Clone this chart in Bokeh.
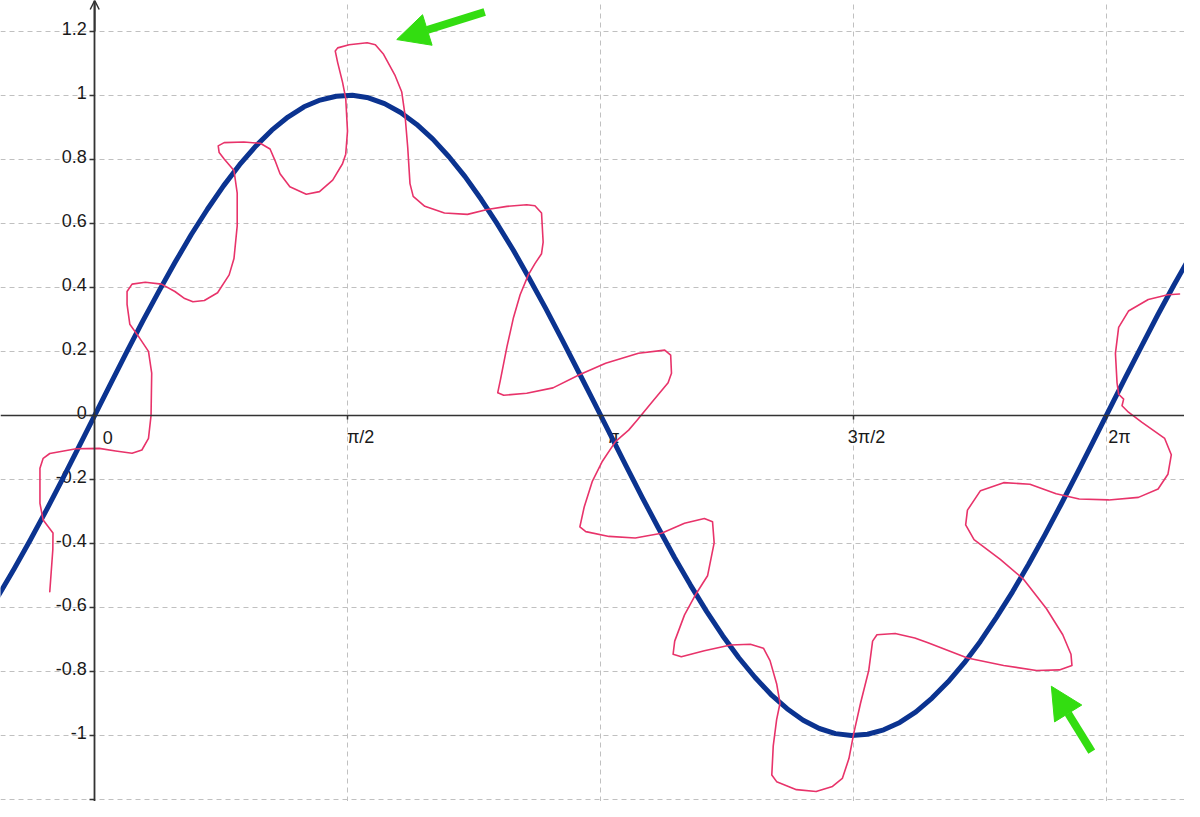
import math
from bokeh.plotting import figure
from bokeh.models import (Range1d, LinearAxis, FixedTicker, Grid, Arrow,
                          NormalHead, OpenHead, CustomJSTickFormatter)
from bokeh.embed import file_html
from bokeh.resources import INLINE
from bokeh.core.properties import value

PI = math.pi

# ---- axes / ticks ----
x_grid_ticks = [PI / 2, PI, 3 * PI / 2, 2 * PI]
x_label_pos = [0, PI / 2, PI, 3 * PI / 2, 2 * PI]
x_labels = ["0", "π/2", "π", "3π/2", "2π"]
y_grid_ticks = [-1.2, -1.0, -0.8, -0.6, -0.4, -0.2, 0.2, 0.4, 0.6, 0.8, 1.0, 1.2]
y_tick_pos = [-1.2, -1.0, -0.8, -0.6, -0.4, -0.2, 0.0, 0.2, 0.4, 0.6, 0.8, 1.0, 1.2]
y_label_pos = [1.2, 1.0, 0.8, 0.6, 0.4, 0.2, 0.0, -0.2, -0.4, -0.6, -0.8, -1.0]
y_labels = ["1.2", "1", "0.8", "0.6", "0.4", "0.2", "0", "-0.2", "-0.4", "-0.6", "-0.8", "-1"]

# ---- blue curve ----
blue_x = [-0.6, -0.5, -0.4, -0.3, -0.2, -0.1, 0.0, 0.1, 0.2, 0.3, 0.4, 0.5, 0.6, 0.7, 0.8,
          0.9, 1.0, 1.1, 1.2, 1.3, 1.4, 1.5, 1.6, 1.7, 1.8, 1.9, 2.0, 2.1, 2.2, 2.3, 2.4,
          2.5, 2.6, 2.7, 2.8, 2.9, 3.0, 3.1, 3.2, 3.3, 3.4, 3.5, 3.6, 3.7, 3.8, 3.9, 4.0,
          4.1, 4.2, 4.3, 4.4, 4.5, 4.6, 4.7, 4.8, 4.9, 5.0, 5.1, 5.2, 5.3, 5.4, 5.5, 5.6,
          5.7, 5.8, 5.9, 6.0, 6.1, 6.2, 6.3, 6.4, 6.5, 6.6, 6.7, 6.8]
blue_y = [-0.565, -0.479, -0.389, -0.296, -0.199, -0.100, 0.000, 0.100, 0.199, 0.296, 0.389,
          0.479, 0.565, 0.644, 0.717, 0.783, 0.841, 0.891, 0.932, 0.964, 0.985, 0.997, 1.000,
          0.992, 0.974, 0.946, 0.909, 0.863, 0.808, 0.746, 0.675, 0.598, 0.516, 0.427, 0.335,
          0.239, 0.141, 0.042, -0.058, -0.158, -0.256, -0.351, -0.443, -0.530, -0.612, -0.688,
          -0.757, -0.818, -0.872, -0.916, -0.952, -0.978, -0.994, -1.000, -0.996, -0.982,
          -0.959, -0.926, -0.883, -0.832, -0.773, -0.706, -0.631, -0.551, -0.465, -0.374,
          -0.279, -0.182, -0.083, 0.017, 0.117, 0.215, 0.312, 0.405, 0.494]

# ---- red freehand curve ----
red_x = [-0.279, -0.260, -0.259, -0.320, -0.340, -0.340, -0.320, -0.279, -0.115, 0.028,
         0.130, 0.232, 0.293, 0.334, 0.350, 0.354, 0.334, 0.273, 0.218, 0.201,
         0.201, 0.232, 0.314, 0.415, 0.498, 0.559, 0.610, 0.681, 0.763, 0.835,
         0.865, 0.885, 0.885, 0.865, 0.804, 0.773, 0.767, 0.804, 0.926, 1.028,
         1.089, 1.120, 1.151, 1.212, 1.314, 1.396, 1.478, 1.539, 1.559, 1.570,
         1.559, 1.539, 1.509, 1.494, 1.509, 1.580, 1.692, 1.743, 1.794, 1.866,
         1.907, 1.927, 1.944, 1.958, 1.978, 2.050, 2.172, 2.315, 2.438, 2.560,
         2.683, 2.734, 2.775, 2.785, 2.775, 2.734, 2.693, 2.642, 2.601, 2.560,
         2.520, 2.503, 2.540, 2.683, 2.846, 3.010, 3.173, 3.377, 3.540, 3.577,
         3.582, 3.561, 3.459, 3.367, 3.316, 3.234, 3.153, 3.091, 3.040, 3.013,
         3.050, 3.194, 3.357, 3.520, 3.663, 3.786, 3.837, 3.847, 3.806, 3.735,
         3.663, 3.602, 3.592, 3.643, 3.786, 3.949, 4.072, 4.153, 4.194, 4.235,
         4.256, 4.235, 4.214, 4.205, 4.235, 4.358, 4.480, 4.582, 4.643, 4.684,
         4.715, 4.756, 4.807, 4.831, 4.858, 4.971, 5.093, 5.175, 5.420, 5.645,
         5.849, 5.991, 6.069, 6.063, 6.012, 5.910, 5.767, 5.624, 5.461, 5.409,
         5.420, 5.501, 5.645, 5.808, 5.971, 6.114, 6.298, 6.482, 6.604, 6.665,
         6.686, 6.645, 6.502, 6.420, 6.380, 6.390, 6.359, 6.349, 6.339, 6.359,
         6.420, 6.543, 6.665, 6.737]
red_y = [-0.551, -0.419, -0.367, -0.327, -0.275, -0.165, -0.134, -0.119, -0.104, -0.103,
         -0.111, -0.118, -0.108, -0.072, 0.000, 0.132, 0.200, 0.246, 0.285, 0.347,
         0.387, 0.410, 0.416, 0.410, 0.387, 0.365, 0.355, 0.359, 0.383, 0.439,
         0.490, 0.592, 0.694, 0.765, 0.801, 0.821, 0.842, 0.852, 0.854, 0.850,
         0.832, 0.796, 0.755, 0.714, 0.691, 0.699, 0.735, 0.786, 0.816, 0.888,
         0.990, 1.041, 1.102, 1.138, 1.148, 1.158, 1.164, 1.158, 1.128, 1.061,
         1.010, 0.939, 0.837, 0.724, 0.684, 0.653, 0.632, 0.628, 0.643, 0.653,
         0.658, 0.655, 0.632, 0.541, 0.505, 0.474, 0.439, 0.377, 0.306, 0.214,
         0.112, 0.071, 0.063, 0.069, 0.086, 0.127, 0.163, 0.194, 0.204, 0.188,
         0.132, 0.102, 0.040, -0.016, -0.046, -0.082, -0.143, -0.205, -0.286, -0.348,
         -0.363, -0.378, -0.383, -0.368, -0.337, -0.322, -0.332, -0.398, -0.501, -0.557,
         -0.623, -0.705, -0.746, -0.754, -0.735, -0.717, -0.715, -0.727, -0.766, -0.838,
         -0.899, -0.950, -1.032, -1.123, -1.144, -1.169, -1.175, -1.159, -1.134, -1.072,
         -0.991, -0.899, -0.797, -0.705, -0.685, -0.681, -0.695, -0.710, -0.758, -0.781,
         -0.797, -0.795, -0.781, -0.746, -0.685, -0.603, -0.511, -0.450, -0.388, -0.342,
         -0.296, -0.235, -0.210, -0.215, -0.245, -0.261, -0.264, -0.256, -0.230, -0.184,
         -0.123, -0.072, -0.021, 0.010, 0.030, 0.051, 0.066, 0.102, 0.194, 0.275,
         0.326, 0.362, 0.377, 0.379]

# ---- green annotation arrows (start -> tip, data units) ----
arrow_x_start = [2.422, 6.192]
arrow_y_start = [1.260, -1.050]
arrow_x_end = [1.876, 5.941]
arrow_y_end = [1.174, -0.846]

X_RANGE = (-0.585, 6.768)
Y_RANGE = (-1.206, 1.296)

AXIS_COLOR = "#333333"
GRID_COLOR = "#c0c0c0"
BLUE = "#0b3390"
RED = "#e8336a"
GREEN = "#33dd11"
FONT = "Liberation Sans"
FONT_PX = 18
# Liberation Sans advance widths (em) for label characters
CHAR_EM = {"0": 0.556, "1": 0.556, "2": 0.556, "4": 0.556, "6": 0.556, "8": 0.556,
           ".": 0.278, "-": 0.333}

p = figure(width=1184, height=801, output_backend="svg", toolbar_location=None,
           x_range=Range1d(*X_RANGE), y_range=Range1d(*Y_RANGE),
           x_axis_location=None, y_axis_location=None, min_border=0,
           outline_line_color=None, background_fill_color="white",
           border_fill_color="white")
p.center = []  # drop default grids

# grids
gx = Grid(dimension=0, ticker=FixedTicker(ticks=x_grid_ticks),
          grid_line_color=GRID_COLOR, grid_line_dash="5 4", grid_line_width=1)
gy = Grid(dimension=1, ticker=FixedTicker(ticks=y_grid_ticks),
          grid_line_color=GRID_COLOR, grid_line_dash="5 4", grid_line_width=1)
p.add_layout(gx)
p.add_layout(gy)

xaxis = LinearAxis(fixed_location=0, ticker=FixedTicker(ticks=x_grid_ticks),
                   formatter=CustomJSTickFormatter(code="return ''"),
                   axis_line_color=AXIS_COLOR, axis_line_width=1.5,
                   major_tick_line_color=AXIS_COLOR, major_tick_line_width=1.5,
                   major_tick_in=0, major_tick_out=4, minor_tick_line_color=None)
yaxis = LinearAxis(fixed_location=0, ticker=FixedTicker(ticks=y_tick_pos),
                   formatter=CustomJSTickFormatter(code="return ''"),
                   axis_line_color=AXIS_COLOR, axis_line_width=1.8,
                   major_tick_line_color=AXIS_COLOR, major_tick_line_width=1.5,
                   major_tick_in=0, major_tick_out=5, minor_tick_line_color=None)
p.add_layout(xaxis, "below")
p.add_layout(yaxis, "left")

# arrow at top of y axis
p.add_layout(Arrow(end=OpenHead(size=9, line_color=AXIS_COLOR, line_width=1.5),
                   x_start=0, y_start=1.2, x_end=0, y_end=Y_RANGE[1],
                   line_color=AXIS_COLOR, line_width=1.8))

# tick labels
p.text(x=x_label_pos, y=[0] * len(x_label_pos), text=x_labels, x_offset=13, y_offset=22,
       text_align="center", text_baseline="alphabetic", text_font=value(FONT),
       text_font_size=value(f"{FONT_PX}px"), text_color="#1a1a1a")

# y labels: right edge 8px left of the axis (left-aligned with measured width)
y_offsets = [-8 - FONT_PX * sum(CHAR_EM[c] for c in s) for s in y_labels]
p.text(x=[0] * len(y_label_pos), y=y_label_pos, text=y_labels, x_offset=y_offsets,
       y_offset=-3, text_align="left", text_baseline="alphabetic", text_font=value(FONT),
       text_font_size=value(f"{FONT_PX}px"), text_color="#1a1a1a")

# curves
p.line(blue_x, blue_y, line_color=BLUE, line_width=5, line_join="round", line_cap="round")
p.line(red_x, red_y, line_color=RED, line_width=1.6, line_join="round", line_cap="round")

# green arrows
for xs, ys, xe, ye in zip(arrow_x_start, arrow_y_start, arrow_x_end, arrow_y_end):
    p.add_layout(Arrow(end=NormalHead(size=32, fill_color=GREEN, line_color=GREEN, line_width=1),
                       x_start=xs, y_start=ys, x_end=xe, y_end=ye,
                       line_color=GREEN, line_width=8))

open("out.html", "w").write(file_html(p, INLINE))
